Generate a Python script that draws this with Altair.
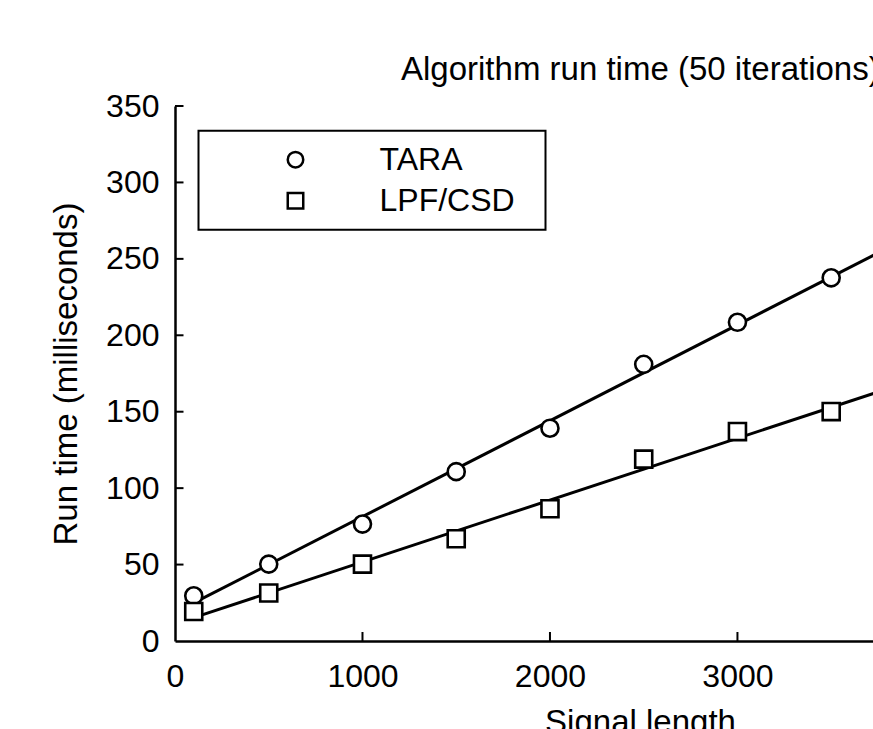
import altair as alt
import pandas as pd

signal_length = [100, 500, 1000, 1500, 2000, 2500, 3000, 3500]
tara_ms = [29.6, 50.3, 76.5, 110.8, 139.2, 181.0, 208.5, 237.6]
lpf_csd_ms = [19.3, 31.4, 50.3, 66.9, 86.5, 119.0, 137.0, 150.1]
series_names = ["TARA", "LPF/CSD"]
x_tick_values = [0, 1000, 2000, 3000]
x_inner_ticks = [1000, 2000, 3000]
y_tick_values = [0, 50, 100, 150, 200, 250, 300, 350]
y_inner_ticks = [50, 100, 150, 200, 250, 300, 350]

rows = []
for name, vals in zip(series_names, [tara_ms, lpf_csd_ms]):
    for x, y in zip(signal_length, vals):
        rows.append({"series": name, "x": x, "y": y})
df = pd.DataFrame(rows)

FONT = "Liberation Sans"
W, H = 698, 535

x_scale = alt.Scale(domain=[0, 3723], nice=False, zero=False)
y_scale = alt.Scale(domain=[0, 350], nice=False)

x_axis = alt.Axis(values=x_tick_values, format="d", grid=False, ticks=False, tickSize=0,
                  labelPadding=20, labelFontSize=32, labelFont=FONT, labelColor="black",
                  domainColor="black", domainWidth=2.5,
                  titleFontSize=33, titleFont=FONT, titleFontWeight="normal", titleColor="black",
                  titleX=465, titleY=91, titleAlign="center", titleBaseline="alphabetic",
                  labelFlush=False, labelOverlap=False)
y_axis = alt.Axis(values=y_tick_values, format="d", grid=False, ticks=False, tickSize=0,
                  labelPadding=16, labelFontSize=32, labelFont=FONT, labelColor="black",
                  domainColor="black", domainWidth=2.5,
                  titleFontSize=33, titleFont=FONT, titleFontWeight="normal", titleColor="black",
                  titleX=-99, titleY=H / 2, titleAlign="center", titleBaseline="alphabetic",
                  titleAngle=270, labelFlush=False, labelOverlap=False)

X = alt.X("x:Q", scale=x_scale, axis=x_axis, title="Signal length")
Y = alt.Y("y:Q", scale=y_scale, axis=y_axis, title="Run time (milliseconds)")

base = alt.Chart(df)

fit_lines = base.transform_regression(
    "x", "y", groupby=["series"], extent=[100, 5000]
).mark_line(color="black", strokeWidth=3, clip=True).encode(
    x=X, y=Y, detail="series:N"
)

legend = alt.Legend(
    title=None, orient="none", legendX=23.5, legendY=24.7,
    strokeColor="black", padding=13, rowPadding=9,
    symbolOffset=68, labelOffset=68, symbolSize=240, symbolOpacity=1,
    symbolStrokeWidth=2.5, labelFontSize=32, labelFont=FONT,
    labelColor="black", labelLimit=400,
    labelExpr="datum.label + '\u00a0\u00a0\u200b'",
)

points = base.mark_point(filled=True, fill="white", stroke="black", opacity=1,
                         strokeWidth=2.6, size=290).encode(
    x=X, y=Y,
    shape=alt.Shape("series:N",
                    scale=alt.Scale(domain=series_names, range=["circle", "square"]),
                    legend=legend),
)

xt_df = pd.DataFrame({"x": x_inner_ticks})
yt_df = pd.DataFrame({"y": y_inner_ticks})

x_ticks = alt.Chart(xt_df).mark_rule(color="black", strokeWidth=2).encode(
    x=X, y=alt.value(H), y2=alt.value(H - 9)
)
y_ticks = alt.Chart(yt_df).mark_rule(color="black", strokeWidth=2).encode(
    y=Y, x=alt.value(0), x2=alt.value(8.5)
)

chart = alt.layer(x_ticks, y_ticks, fit_lines, points).properties(
    width=W, height=H,
    title=alt.TitleParams("Algorithm run time (50 iterations)", anchor="start", frame="group",
                          dx=226, dy=51, offset=28, baseline="alphabetic", fontSize=33,
                          font=FONT, fontWeight="normal", color="black"),
    autosize=alt.AutoSizeParams(type="none"),
    padding={"left": 175, "top": 106, "right": 0, "bottom": 88},
).configure_view(stroke=None).configure_legend(strokeWidth=2)

chart.save("out.html", embed_options={"renderer": "svg", "actions": False})
